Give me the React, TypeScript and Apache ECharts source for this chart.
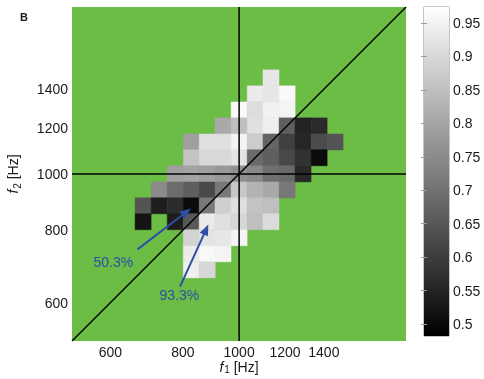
import React, { useEffect, useRef } from 'react';
import * as echarts from 'echarts';

// Cell centre frequencies (Hz), shared by f1 (columns) and f2 (rows)
const cellFreqs = [683, 728, 776, 827, 881, 938, 1000, 1066, 1135, 1210, 1289, 1374, 1464];
// f2 rows, top to bottom
const f2Rows = [1464, 1374, 1289, 1210, 1135, 1066, 1000, 938, 881, 827, 776, 728, 683];
const N = null;
// proportion values per row (columns follow cellFreqs)
const row0 = [N, N, N, N, N, N, N, N, 0.928, N, N, N, N];
const row1 = [N, N, N, N, N, N, N, 0.935, 0.928, 0.962, N, N, N];
const row2 = [N, N, N, N, N, N, 0.962, 0.909, 0.947, 0.953, N, N, N];
const row3 = [N, N, N, N, N, 0.809, 0.851, 0.914, 0.943, 0.666, 0.547, 0.563, N];
const row4 = [N, N, N, 0.789, 0.914, 0.914, 0.953, 0.876, 0.674, 0.605, 0.555, 0.626, 0.645];
const row5 = [N, N, N, 0.859, 0.901, 0.901, 0.92, 0.686, 0.666, 0.62, 0.578, 0.505, N];
const row6 = [N, N, 0.789, 0.797, 0.789, 0.778, 0.759, 0.747, 0.697, 0.686, 0.559, N, N];
const row7 = [N, 0.751, 0.693, 0.666, 0.62, 0.713, 0.866, 0.828, 0.809, 0.713, N, N, N];
const row8 = [0.645, 0.54, 0.567, 0.503, 0.716, 0.882, 0.912, 0.859, 0.851, N, N, N, N];
const row9 = [0.52, N, 0.536, 0.651, 0.933, 0.912, 0.897, 0.851, 0.905, N, N, N, N];
const row10 = [N, N, N, 0.889, 0.92, 0.928, 0.953, N, N, N, N, N, N];
const row11 = [N, N, N, 0.935, 0.962, 0.953, N, N, N, N, N, N, N];
const row12 = [N, N, N, 0.943, 0.897, N, N, N, N, N, N, N, N];
const values = [row0, row1, row2, row3, row4, row5, row6, row7, row8, row9, row10, row11, row12];

const xTicks = [600, 800, 1000, 1200, 1400];
const yTicks = [600, 800, 1000, 1200, 1400];
const cbTicks = [0.5, 0.55, 0.6, 0.65, 0.7, 0.75, 0.8, 0.85, 0.9, 0.95];
const axisMinHz = 515;
const axisMaxHz = 1940;
const refHz = 1000;
const cMin = 0.482;
const cMax = 0.974;

// annotations (data coordinates, Hz)
const annotationLabels = ['50.3%', '93.3%'];
const arrowFromHz = [[668, 741], [791, 639]];
const arrowToHz = [[826, 872], [885, 818]];
const labelAtHz = [[607, 704], [789, 618]];

const FONT = '"Liberation Sans", Arial, Helvetica, sans-serif';
const BLUE = '#2d4fa4';

export default function App() {
  const ref = useRef<HTMLDivElement>(null);
  useEffect(() => {
    if (!ref.current) return;
    const chart = echarts.init(ref.current, null, { renderer: 'svg' });
    const L = Math.log;
    const lnMin = L(axisMinHz);
    const lnMax = L(axisMaxHz);
    const step = L(cellFreqs[cellFreqs.length - 1] / cellFreqs[0]) / (cellFreqs.length - 1);
    const heatData: number[][] = [];
    f2Rows.forEach((f2, i) => {
      values[i].forEach((v, j) => {
        if (v != null) heatData.push([L(cellFreqs[j]), L(f2), v]);
      });
    });
    const hzFmt = (v: number) => String(Math.round(Math.exp(v)));
    const lineStyle = { color: '#000', width: 1.5 };
    const option: any = {
      animation: false,
      textStyle: { fontFamily: FONT },
      grid: [
        { left: 72, top: 7, width: 334, height: 334, show: true, backgroundColor: '#6bbd46', borderWidth: 0, outerBoundsMode: 'none', containLabel: false },
        { left: 424, top: 7, width: 25, height: 329, show: true, backgroundColor: 'transparent', borderColor: '#8a8a8a', borderWidth: 1, outerBoundsMode: 'none', containLabel: false },
      ],
      xAxis: [
        {
          type: 'value', gridIndex: 0, min: lnMin, max: lnMax,
          axisLine: { show: false }, axisTick: { show: false }, splitLine: { show: false },
          axisLabel: { customValues: xTicks.map(L), formatter: hzFmt, fontSize: 14, lineHeight: 14, color: '#1a1a1a', margin: 4, fontFamily: FONT },
          name: '{i|f}{s|1} [Hz]', nameLocation: 'middle', nameGap: 19, nameMoveOverlap: false,
          nameTextStyle: {
            fontSize: 14, color: '#1a1a1a', fontFamily: FONT, lineHeight: 14,
            rich: { i: { fontStyle: 'italic', fontSize: 14, lineHeight: 14, color: '#1a1a1a', fontFamily: FONT }, s: { fontSize: 10, lineHeight: 10, padding: [5, 0, 0, 1], color: '#1a1a1a', fontFamily: FONT } },
          },
        },
        { type: 'value', gridIndex: 1, min: 0, max: 1, show: false },
      ],
      yAxis: [
        {
          type: 'value', gridIndex: 0, min: lnMin, max: lnMax,
          axisLine: { show: false }, axisTick: { show: false }, splitLine: { show: false },
          axisLabel: { customValues: yTicks.map(L), formatter: hzFmt, fontSize: 14, color: '#1a1a1a', margin: 4, fontFamily: FONT },
          name: '{i|f}{s|2} [Hz]', nameLocation: 'middle', nameGap: 50, nameMoveOverlap: false,
          nameTextStyle: {
            fontSize: 14, color: '#1a1a1a', fontFamily: FONT,
            rich: { i: { fontStyle: 'italic', fontSize: 14, color: '#1a1a1a', fontFamily: FONT }, s: { fontSize: 10, padding: [9, 0, 0, 1], color: '#1a1a1a', fontFamily: FONT } },
          },
        },
        {
          type: 'value', gridIndex: 1, min: cMin, max: cMax, position: 'right', z: 10,
          axisLine: { show: false }, splitLine: { show: false },
          axisTick: { show: true, inside: true, length: 3, customValues: cbTicks, lineStyle: { color: '#9a9a9a' } },
          axisLabel: { customValues: cbTicks, formatter: (v: number) => String(+v.toFixed(2)), fontSize: 14, color: '#1a1a1a', margin: 4, fontFamily: FONT },
        },
        {
          type: 'value', gridIndex: 1, min: cMin, max: cMax, position: 'left', z: 10,
          axisLine: { show: false }, splitLine: { show: false },
          axisTick: { show: true, inside: true, length: 3, customValues: cbTicks, lineStyle: { color: '#9a9a9a' } },
          axisLabel: { show: false },
        },
      ],
      visualMap: {
        show: false, type: 'continuous', min: cMin, max: cMax, dimension: 2, seriesIndex: 0,
        inRange: { color: ['#000000', '#ffffff'] },
      },
      series: [
        {
          type: 'custom', xAxisIndex: 0, yAxisIndex: 0, data: heatData, z: 2,
          encode: { x: 0, y: 1 },
          renderItem: (params: any, api: any) => {
            const x = api.value(0);
            const y = api.value(1);
            const h = step / 2;
            const p1 = api.coord([x - h, y + h]);
            const p2 = api.coord([x + h, y - h]);
            const c = api.visual('color');
            return {
              type: 'rect',
              shape: { x: p1[0], y: p1[1], width: p2[0] - p1[0], height: p2[1] - p1[1] },
              style: { fill: c, stroke: c, lineWidth: 0.5 },
            };
          },
        },
        { type: 'line', xAxisIndex: 0, yAxisIndex: 0, data: [[lnMin, lnMin], [lnMax, lnMax]], showSymbol: false, symbol: 'none', lineStyle, z: 4, silent: true },
        { type: 'line', xAxisIndex: 0, yAxisIndex: 0, data: [[L(refHz), lnMin], [L(refHz), lnMax]], showSymbol: false, symbol: 'none', lineStyle, z: 4, silent: true },
        { type: 'line', xAxisIndex: 0, yAxisIndex: 0, data: [[lnMin, L(refHz)], [lnMax, L(refHz)]], showSymbol: false, symbol: 'none', lineStyle, z: 4, silent: true },
        {
          type: 'custom', xAxisIndex: 1, yAxisIndex: 1, data: [[0, cMin, 1, cMax]], z: 1, silent: true,
          renderItem: (params: any, api: any) => {
            const p1 = api.coord([api.value(0), api.value(3)]);
            const p2 = api.coord([api.value(2), api.value(1)]);
            return {
              type: 'rect',
              shape: { x: p1[0], y: p1[1], width: p2[0] - p1[0], height: p2[1] - p1[1] },
              style: {
                fill: new echarts.graphic.LinearGradient(0, 0, 0, 1, [
                  { offset: 0, color: '#ffffff' },
                  { offset: 1, color: '#000000' },
                ]),
              },
            };
          },
        },
      ],
    };
    chart.setOption(option);

    const toPx = (p: number[]) => chart.convertToPixel({ gridIndex: 0 }, [L(p[0]), L(p[1])]) as number[];
    const elements: any[] = [
      { type: 'text', left: 20, top: 11, style: { text: 'B', fontSize: 11, fontWeight: 'bold', fill: '#1a1a1a', fontFamily: FONT } },
    ];
    annotationLabels.forEach((lab, i) => {
      const a = toPx(arrowFromHz[i]);
      const b = toPx(arrowToHz[i]);
      const dx = b[0] - a[0];
      const dy = b[1] - a[1];
      const len = Math.hypot(dx, dy);
      const ux = dx / len;
      const uy = dy / len;
      const headL = 11;
      const headW = 4.5;
      const bx = b[0] - ux * headL;
      const by = b[1] - uy * headL;
      elements.push({
        type: 'line', z: 20,
        shape: { x1: a[0], y1: a[1], x2: bx + ux, y2: by + uy },
        style: { stroke: BLUE, lineWidth: 2 },
      });
      elements.push({
        type: 'polygon', z: 20,
        shape: { points: [[b[0], b[1]], [bx - uy * headW, by + ux * headW], [bx + uy * headW, by - ux * headW]] },
        style: { fill: BLUE },
      });
      const t = toPx(labelAtHz[i]);
      elements.push({
        type: 'text', z: 20, x: t[0], y: t[1],
        style: { text: lab, fontSize: 14, fill: BLUE, fontFamily: FONT, align: 'center', verticalAlign: 'middle' },
      });
    });
    chart.setOption({ graphic: { elements } });

    return () => chart.dispose();
  }, []);
  return <div ref={ref} style={{ position: 'fixed', left: 0, top: 0, width: 484, height: 379 }} />;
}
